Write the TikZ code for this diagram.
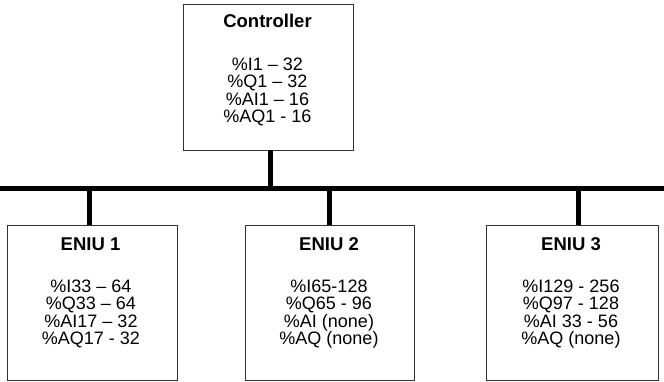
\documentclass[tikz,border=0pt]{standalone}
\usepackage{fontspec}
\setmainfont{Liberation Sans}
\begin{document}
\begin{tikzpicture}[x=1pt,y=-1pt,
  box/.style={draw=black!80,line width=1pt,fill=white},
  bus/.style={line width=5pt},
  drop/.style={line width=5pt},
  title/.style={font=\fontsize{18.5}{20}\selectfont\bfseries,inner sep=0pt,anchor=base},
  val/.style={font=\fontsize{18}{20}\selectfont,inner sep=0pt,anchor=base}]
\useasboundingbox (0,0) rectangle (664,381);
% boxes
\path[box] (183.5,4) rectangle (353,150);
\coordinate (ctrlB) at (270,150);
\path[box] (7,225) rectangle (177,380);
\path[box] (245,225) rectangle (414,380);
\path[box] (486,225) rectangle (658,380);
% bus
\coordinate (busL) at (0,188);
\coordinate (busR) at (664,188);
\draw[bus] (busL) -- (busR);
\coordinate (t0) at (270,188);
\coordinate (t1) at (89,188);
\coordinate (t2) at (329,188);
\coordinate (t3) at (578,188);
\coordinate (e1T) at (89,225);
\coordinate (e2T) at (329,225);
\coordinate (e3T) at (578,225);
\draw[drop] (ctrlB) -- (t0);
\draw[drop] (t1) -- (e1T);
\draw[drop] (t2) -- (e2T);
\draw[drop] (t3) -- (e3T);
% controller texts
\node[title] (ct) at (267.5,27) {Controller};
\node[val] (c1) at (267.5,70) {\%I1 – 32};
\node[val] (c2) at (267.5,87.5) {\%Q1 – 32};
\node[val] (c3) at (267.5,105) {\%AI1 – 16};
\node[val] (c4) at (267.5,122.5) {\%AQ1 - 16};
% ENIU 1
\node[title] (e1t) at (90.5,250) {ENIU 1};
\node[val] (e11) at (91,292) {\%I33 – 64};
\node[val] (e12) at (91,309.5) {\%Q33 – 64};
\node[val] (e13) at (91,327) {\%AI17 – 32};
\node[val] (e14) at (91,344.5) {\%AQ17 - 32};
% ENIU 2
\node[title] (e2t) at (329,250) {ENIU 2};
\node[val] (e21) at (329,292) {\%I65-128};
\node[val] (e22) at (329,309.5) {\%Q65 - 96};
\node[val] (e23) at (329,327) {\%AI (none)};
\node[val] (e24) at (329,344.5) {\%AQ (none)};
% ENIU 3
\node[title] (e3t) at (571,250) {ENIU 3};
\node[val] (e31) at (571,292) {\%I129 - 256};
\node[val] (e32) at (571,309.5) {\%Q97 - 128};
\node[val] (e33) at (571,327) {\%AI 33 - 56};
\node[val] (e34) at (571,344.5) {\%AQ (none)};
\end{tikzpicture}
\end{document}
